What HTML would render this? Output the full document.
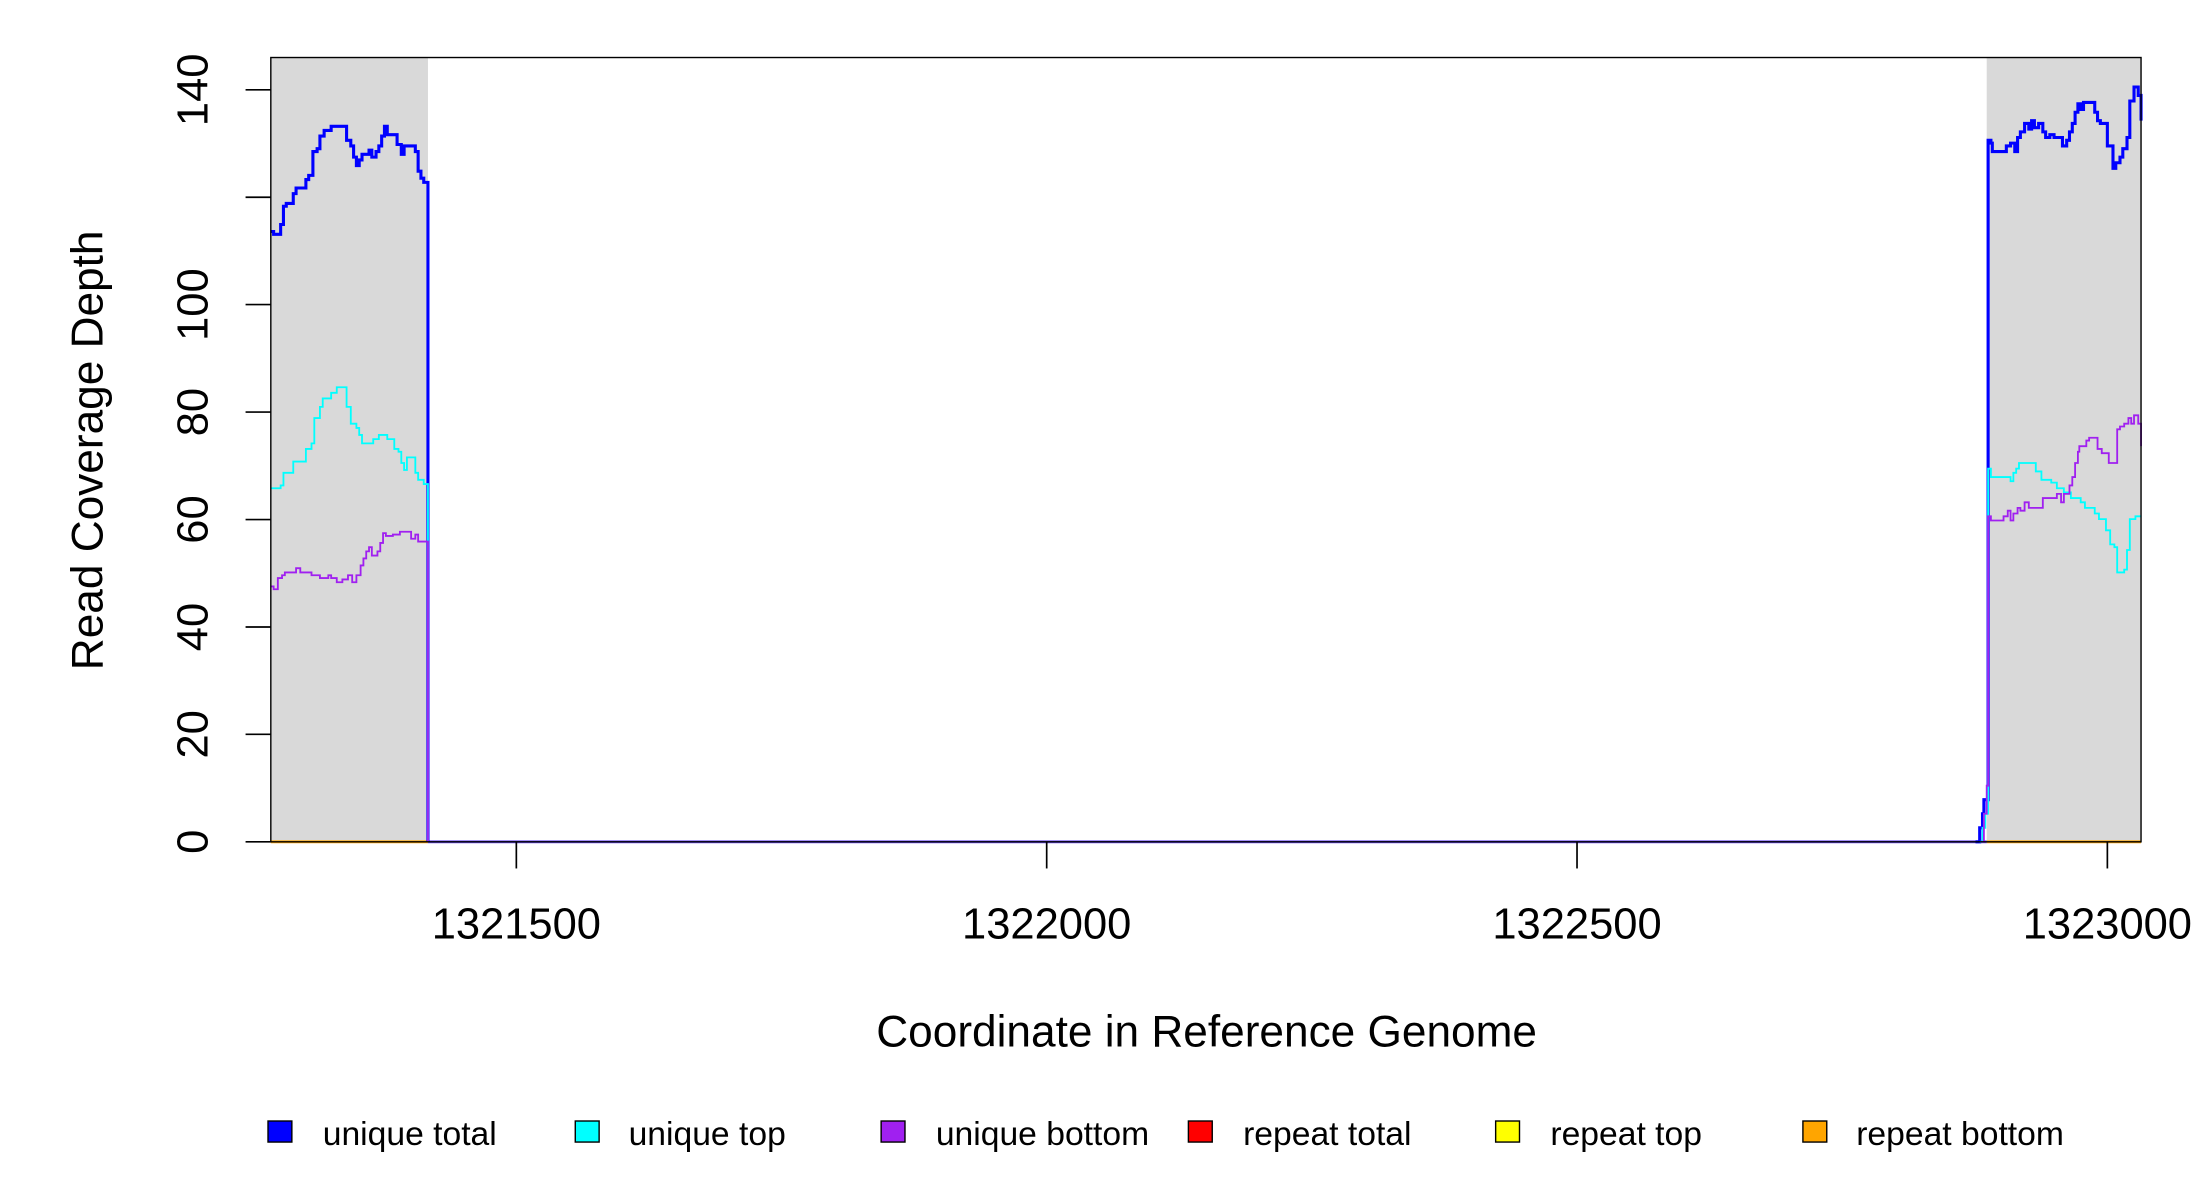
<!DOCTYPE html>
<html><head><meta charset="utf-8"><style>html,body{margin:0;padding:0;background:#fff}svg{display:block}</style></head>
<body>
<svg width="2200" height="1200" viewBox="0 0 1568 855.3" xmlns="http://www.w3.org/2000/svg" font-family="Liberation Sans, sans-serif">
<rect x="0" y="0" width="1568" height="856" fill="#fff"/>
<rect x="193" y="41" width="112" height="559" fill="#d9d9d9"/>
<rect x="1416" y="41" width="110" height="559" fill="#d9d9d9"/>
<line x1="193" y1="600" x2="305" y2="600" stroke="#ffa500" stroke-width="2"/>
<line x1="1416" y1="600" x2="1526" y2="600" stroke="#ffa500" stroke-width="2"/>
<line x1="305" y1="600" x2="1416" y2="600" stroke="#6a4cf0" stroke-width="2"/>
<g fill="none" stroke-linejoin="miter">
<polyline stroke="#0000ff" stroke-width="2.2" points="193,165 195,165 195,167 200,167 200,160 202,160 202,147 204,147 204,145 209,145 209,138 211,138 211,134 218,134 218,128 220,128 220,125 223,125 223,108 226,108 226,106 228,106 228,97 231,97 231,93 236,93 236,90 247,90 247,100 250,100 250,104 252,104 252,112 254,112 254,118 256,118 256,114 258,114 258,110 263,110 263,107 265,107 265,112 268,112 268,108 270,108 270,104 272,104 272,97 274,97 274,90 276,90 276,96 283,96 283,103 286,103 286,110 288,110 288,104 294,104 294,104 296,104 296,108 298,108 298,122 300,122 300,127 302,127 302,130 305,130 305,600"/>
<polyline stroke="#00ffff" stroke-width="1.3" points="193,348 200,348 200,346 202,346 202,337 209,337 209,329 218,329 218,320 222,320 222,316 224,316 224,298 228,298 228,290 230,290 230,284 236,284 236,280 240,280 240,276 247,276 247,290 250,290 250,302 254,302 254,305 256,305 256,310 258,310 258,316 266,316 266,313 270,313 270,310 276,310 276,313 281,313 281,320 284,320 284,322 286,322 286,330 288,330 288,335 290,335 290,326 296,326 296,337 298,337 298,342 302,342 302,345 305,345 305,600"/>
<polyline stroke="#a020f0" stroke-width="1.3" points="193,418 195,418 195,420 198,420 198,412 201,412 201,410 203,410 203,408 211,408 211,405 214,405 214,408 222,408 222,410 228,410 228,412 234,412 234,410 236,410 236,412 240,412 240,415 244,415 244,413 248,413 248,410 251,410 251,415 254,415 254,410 257,410 257,403 259,403 259,398 261,398 261,393 263,393 263,390 265,390 265,396 269,396 269,393 271,393 271,387 273,387 273,380 275,380 275,382 280,382 280,381 285,381 285,379 293,379 293,384 296,384 296,381 298,381 298,386 305,386 305,600"/>
<polyline stroke="#0000ff" stroke-width="2.2" points="1408,600 1411,600 1411,590 1413,590 1413,580 1414,580 1414,570 1417,570 1417,100 1419,100 1419,102 1420,102 1420,108 1430,108 1430,104 1433,104 1433,102 1436,102 1436,108 1438,108 1438,98 1440,98 1440,94 1443,94 1443,88 1446,88 1446,92 1448,92 1448,86 1450,86 1450,91 1453,91 1453,88 1456,88 1456,94 1458,94 1458,98 1461,98 1461,96 1464,96 1464,98 1470,98 1470,104 1473,104 1473,100 1475,100 1475,94 1477,94 1477,88 1479,88 1479,80 1481,80 1481,74 1483,74 1483,78 1485,78 1485,73 1493,73 1493,80 1495,80 1495,86 1497,86 1497,88 1500,88 1500,88 1502,88 1502,104 1506,104 1506,120 1508,120 1508,116 1511,116 1511,112 1513,112 1513,106 1516,106 1516,98 1518,98 1518,72 1521,72 1521,62 1524,62 1524,68 1526,68 1526,86"/>
<polyline stroke="#00ffff" stroke-width="1.3" points="1411,600 1413,600 1413,590 1415,590 1415,580 1417,580 1417,334 1419,334 1419,340 1433,340 1433,343 1435,343 1435,337 1437,337 1437,334 1439,334 1439,330 1451,330 1451,336 1455,336 1455,342 1462,342 1462,344 1466,344 1466,348 1471,348 1471,351 1476,351 1476,355 1483,355 1483,358 1486,358 1486,362 1493,362 1493,366 1496,366 1496,370 1501,370 1501,378 1504,378 1504,388 1507,388 1507,390 1509,390 1509,408 1514,408 1514,406 1516,406 1516,392 1518,392 1518,370 1522,370 1522,368 1526,368"/>
<polyline stroke="#a020f0" stroke-width="1.3" points="1412,600 1414,600 1414,580 1416,580 1416,560 1417,560 1417,368 1419,368 1419,371 1428,371 1428,368 1431,368 1431,364 1433,364 1433,371 1435,371 1435,366 1438,366 1438,362 1440,362 1440,364 1443,364 1443,358 1446,358 1446,362 1456,362 1456,355 1466,355 1466,352 1469,352 1469,358 1471,358 1471,352 1475,352 1475,346 1477,346 1477,340 1479,340 1479,330 1481,330 1481,322 1482,322 1482,318 1487,318 1487,314 1489,314 1489,312 1495,312 1495,320 1498,320 1498,323 1503,323 1503,330 1509,330 1509,306 1511,306 1511,304 1514,304 1514,302 1517,302 1517,298 1519,298 1519,302 1521,302 1521,296 1524,296 1524,302 1526,302 1526,318"/>
</g>
<rect x="193" y="41" width="1333" height="559" fill="none" stroke="#000" stroke-width="1"/>
<g stroke="#000" stroke-width="1.2">
<line x1="175" y1="600" x2="193" y2="600"/><line x1="175" y1="523.4" x2="193" y2="523.4"/>
<line x1="175" y1="446.9" x2="193" y2="446.9"/><line x1="175" y1="370.3" x2="193" y2="370.3"/>
<line x1="175" y1="293.7" x2="193" y2="293.7"/><line x1="175" y1="217.1" x2="193" y2="217.1"/>
<line x1="175" y1="140.6" x2="193" y2="140.6"/><line x1="175" y1="64" x2="193" y2="64"/>
<line x1="368" y1="600" x2="368" y2="619"/><line x1="746" y1="600" x2="746" y2="619"/>
<line x1="1124" y1="600" x2="1124" y2="619"/><line x1="1502" y1="600" x2="1502" y2="619"/>
</g>
<g font-size="31" text-anchor="middle" fill="#000">
<text transform="translate(148,600) rotate(-90)">0</text>
<text transform="translate(148,523.4) rotate(-90)">20</text>
<text transform="translate(148,446.9) rotate(-90)">40</text>
<text transform="translate(148,370.3) rotate(-90)">60</text>
<text transform="translate(148,293.7) rotate(-90)">80</text>
<text transform="translate(148,217.1) rotate(-90)">100</text>
<text transform="translate(148,64) rotate(-90)">140</text>
<text x="368" y="669">1321500</text><text x="746" y="669">1322000</text>
<text x="1124" y="669">1322500</text><text x="1502" y="669">1323000</text>
<text x="860" y="746" font-size="31.5">Coordinate in Reference Genome</text>
<text transform="translate(73,321) rotate(-90)" font-size="31.5">Read Coverage Depth</text>
</g>
<g stroke="#000" stroke-width="1">
<rect x="191" y="799" width="17" height="15" fill="#0000ff"/>
<rect x="410" y="799" width="17" height="15" fill="#00ffff"/>
<rect x="628" y="799" width="17" height="15" fill="#a020f0"/>
<rect x="847" y="799" width="17" height="15" fill="#ff0000"/>
<rect x="1066" y="799" width="17" height="15" fill="#ffff00"/>
<rect x="1285" y="799" width="17" height="15" fill="#ffa500"/>
</g>
<g font-size="24" fill="#000">
<text x="230" y="816">unique total</text>
<text x="448" y="816">unique top</text>
<text x="667" y="816">unique bottom</text>
<text x="886" y="816">repeat total</text>
<text x="1105" y="816">repeat top</text>
<text x="1323" y="816">repeat bottom</text>
</g>
</svg>
</body></html>
